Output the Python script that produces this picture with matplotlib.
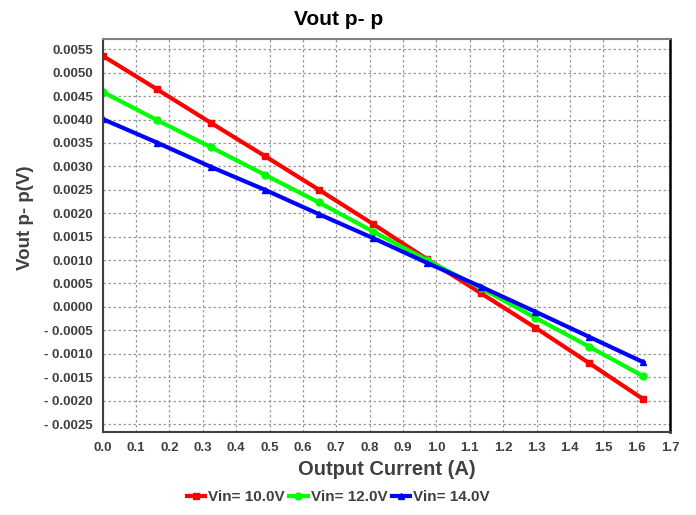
import matplotlib
matplotlib.use("Agg")
import matplotlib.pyplot as plt
from matplotlib.ticker import MultipleLocator, FuncFormatter

# --Data--
current = [0.0, 0.162, 0.324, 0.486, 0.648, 0.81, 0.972, 1.134, 1.296, 1.458, 1.62]
vin10 = [0.00536, 0.00465, 0.00393, 0.00322, 0.00250, 0.00177, 0.00102, 0.00029, -0.00044, -0.00120, -0.00197]
vin12 = [0.00459, 0.00399, 0.00341, 0.00282, 0.00223, 0.00161, 0.00100, 0.00040, -0.00023, -0.00085, -0.00148]
vin14 = [0.00401, 0.00351, 0.00299, 0.00250, 0.00198, 0.00147, 0.00094, 0.00043, -0.00010, -0.00064, -0.00118]
labels = ["Vin= 10.0V", "Vin= 12.0V", "Vin= 14.0V"]

plt.rcParams['font.family'] = ['Liberation Sans', 'DejaVu Sans']
plt.rcParams['font.weight'] = 'bold'
textGray = '#404040'

fig = plt.figure(figsize=(6.96, 5.15), dpi=100)
ax = fig.add_axes([0.1476, 0.1612, 0.815, 0.7631])

ax.plot(current, vin10, color='#ff0000', lw=3, marker='s', ms=5, label=labels[0])
ax.plot(current, vin12, color='#00ff00', lw=3, marker='o', ms=5, label=labels[1])
ax.plot(current, vin14, color='#0000ff', lw=3, marker='^', ms=5, label=labels[2])

ax.set_xlim(0, 1.7)
ax.set_ylim(-0.00267, 0.00572)
ax.xaxis.set_major_locator(MultipleLocator(0.1))
ax.yaxis.set_major_locator(MultipleLocator(0.0005))
ax.xaxis.set_major_formatter(FuncFormatter(lambda v, p: f"{v:.1f}"))
ax.yaxis.set_major_formatter(FuncFormatter(lambda v, p: f"{v:.4f}".replace("-0.0000", "0.0000").replace("-", "- ")))

ax.grid(True, color='#999999', linestyle=(0, (2, 2)), linewidth=0.9)
ax.tick_params(length=0, pad=7, labelsize=9.5, labelcolor=textGray)
for lab in ax.get_xticklabels() + ax.get_yticklabels():
    lab.set_fontweight('bold')

for side in ['left', 'bottom']:
    ax.spines[side].set_color('#404040')
    ax.spines[side].set_linewidth(1.5)
ax.spines['top'].set_color('#808080')
ax.spines['top'].set_linewidth(1.5)
ax.spines['right'].set_color('#000000')
ax.spines['right'].set_linewidth(1.8)

ax.set_xlabel('Output Current (A)', fontsize=14.5, fontweight='bold', color=textGray)
ax.xaxis.set_label_coords(0.5, -0.072)
ax.set_ylabel('Vout p- p(V)', fontsize=13.5, fontweight='bold', color=textGray)
ax.yaxis.set_label_coords(-0.122, 0.545)

fig.text(0.487, 0.963, 'Vout p- p', ha='center', va='center', fontsize=15, fontweight='bold', color='black')

leg = fig.legend(loc='center', bbox_to_anchor=(0.486, 0.034), ncol=3, frameon=False,
                 handlelength=1.2, handletextpad=0.2, columnspacing=0.3,
                 prop={'weight': 'bold', 'size': 11})
for t in leg.get_texts():
    t.set_color(textGray)

fig.savefig('out.png', dpi=100)
